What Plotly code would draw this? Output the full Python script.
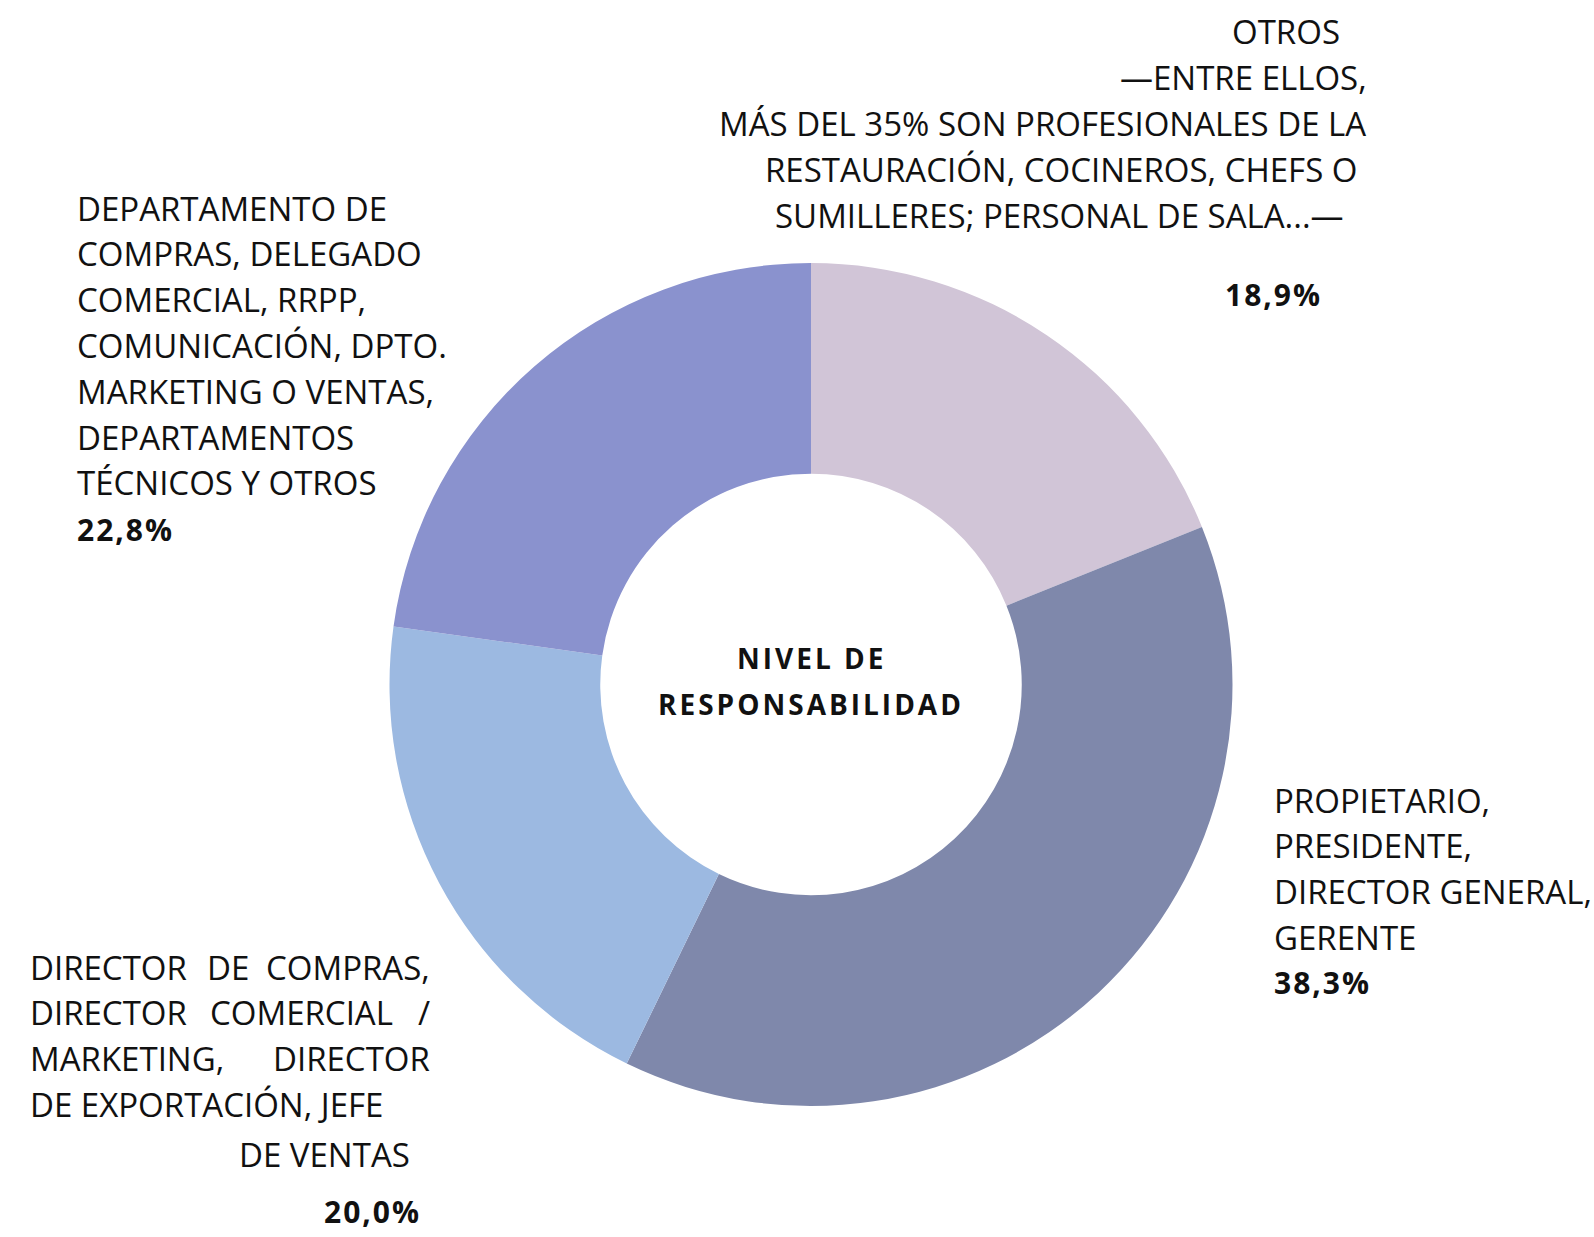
import plotly.graph_objects as go

# Slices, clockwise from 12 o'clock
categories = [
    "OTROS",
    "PROPIETARIO, PRESIDENTE, DIRECTOR GENERAL, GERENTE",
    "DIRECTOR DE COMPRAS, DIRECTOR COMERCIAL / MARKETING, DIRECTOR DE EXPORTACIÓN, JEFE DE VENTAS",
    "DEPARTAMENTO DE COMPRAS, DELEGADO COMERCIAL, RRPP, COMUNICACIÓN, DPTO. MARKETING O VENTAS, DEPARTAMENTOS TÉCNICOS Y OTROS",
]
values = [18.9, 38.3, 20.0, 22.8]
colors = ["#D1C5D7", "#7F88AB", "#9CB9E1", "#8A92CE"]

center_lines = ["NIVEL DE", "RESPONSABILIDAD"]

otros_lines = [
    "OTROS",
    "—ENTRE ELLOS,",
    "MÁS DEL 35% SON PROFESIONALES DE LA",
    "RESTAURACIÓN, COCINEROS, CHEFS O",
    "SUMILLERES; PERSONAL DE SALA...—",
]
propietario_lines = ["PROPIETARIO,", "PRESIDENTE,", "DIRECTOR GENERAL,", "GERENTE"]
departamento_lines = [
    "DEPARTAMENTO DE",
    "COMPRAS, DELEGADO",
    "COMERCIAL, RRPP,",
    "COMUNICACIÓN, DPTO.",
    "MARKETING O VENTAS,",
    "DEPARTAMENTOS",
    "TÉCNICOS Y OTROS",
]
# justified paragraph: words of each line
director_words = [
    ["DIRECTOR", "DE", "COMPRAS,"],
    ["DIRECTOR", "COMERCIAL", "/"],
    ["MARKETING,", "DIRECTOR"],
    ["DE EXPORTACIÓN, JEFE"],
    ["DE VENTAS"],
]


def pct(v):
    return f"{v:.1f}".replace(".", ",") + "%"


W, H = 1594, 1237
FONT = "Open Sans"
SIZE = 33

fig = go.Figure(
    go.Pie(
        labels=categories,
        values=values,
        marker=dict(colors=colors, line=dict(width=0)),
        hole=0.5,
        sort=False,
        direction="clockwise",
        rotation=0,
        textinfo="none",
        hoverinfo="label+percent",
        showlegend=False,
        domain=dict(x=[389 / W, 1233 / W], y=[1 - 1106 / H, 1 - 263 / H]),
    )
)

annotations = []


def add(text, x, y, anchor="left", bold=False, size=SIZE, spacing=0):
    if spacing:
        text = f'<span style="letter-spacing:{spacing}px">{text}</span>'
    if bold:
        text = f"<b>{text}</b>"
    annotations.append(
        dict(
            text=text,
            x=x / W,
            y=1 - y / H,
            xref="paper",
            yref="paper",
            xanchor=anchor,
            yanchor="middle",
            showarrow=False,
            font=dict(family=FONT, size=size, color="#111111"),
        )
    )


LINE = 45.8

# OTROS block (top right)
otros_x = [1286, 1243, 1042, 1061, 1059]
for i, line in enumerate(otros_lines):
    add(line, otros_x[i], 32 + i * LINE, anchor="center")
add(pct(values[0]), 1273, 294, anchor="center", bold=True, size=30, spacing=2)

# PROPIETARIO block (right)
for i, line in enumerate(propietario_lines):
    add(line, 1272, 800 + i * LINE)
add(pct(values[1]), 1272, 982, bold=True, size=30, spacing=2)

# DIRECTOR block (bottom left, justified)
left, right = 28, 432
mid_x = {0: 228, 1: 301}
for i, words in enumerate(director_words):
    y = 967 + i * LINE
    if len(words) == 1:
        if i == len(director_words) - 1:
            add(words[0], 324, y + 4, anchor="center")
        else:
            add(words[0], left, y)
        continue
    add(words[0], left, y)
    add(words[-1], right, y, anchor="right")
    if len(words) == 3:
        add(words[1], mid_x[i], y, anchor="center")
add(pct(values[2]), 372, 1211, anchor="center", bold=True, size=30, spacing=2)

# DEPARTAMENTO block (top left)
for i, line in enumerate(departamento_lines):
    add(line, 75, 208 + i * LINE)
add(pct(values[3]), 75, 529, bold=True, size=30, spacing=2)

# Centre title
add(center_lines[0], 811, 658, anchor="center", bold=True, size=28, spacing=3)
add(center_lines[1], 811, 704, anchor="center", bold=True, size=28, spacing=3)

fig.update_layout(
    width=W,
    height=H,
    margin=dict(l=0, r=0, t=0, b=0),
    paper_bgcolor="white",
    plot_bgcolor="white",
    annotations=annotations,
)

fig.write_html("out.html")
